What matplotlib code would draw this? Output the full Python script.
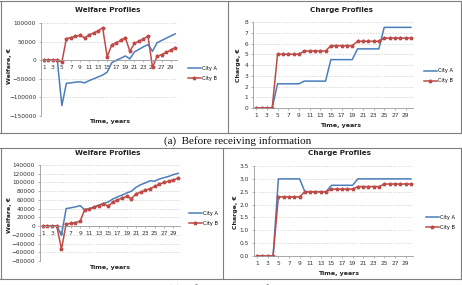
import numpy as np
import matplotlib
matplotlib.use("Agg")
import matplotlib.pyplot as plt
from matplotlib.lines import Line2D

# ------------- data -------------
years = list(range(1, 31))
xtick_labels = [str(v) for v in range(1, 30, 2)]

welfare_before_a = [0, 0, 0, 0, -122000, -62000, -61000, -59000, -58000, -61000,
                    -55000, -50000, -45000, -40000, -32000, -7000, 0, 5000, 11500, 3500,
                    22000, 29000, 36000, 42000, 24000, 47000, 53000, 59000, 65000, 71000]
welfare_before_b = [0, 0, 0, 0, -5000, 58000, 61000, 64000, 67000, 60000,
                    68000, 73000, 79000, 87000, 9000, 41000, 47000, 53000, 61000, 24000,
                    45000, 51000, 57000, 65000, -19000, 10000, 15000, 21000, 27000, 34000]

charge_before_a = [0, 0, 0, 0] + [2.25] * 5 + [2.5] * 5 + [4.5] * 5 + [5.5] * 5 + [7.5] * 6
charge_before_b = [0, 0, 0, 0] + [5.0] * 5 + [5.3] * 5 + [5.8] * 5 + [6.2] * 5 + [6.5] * 6

welfare_after_a = [0, 0, 0, 0, -21000, 40000, 42000, 44000, 47000, 37000,
                   40000, 44000, 48000, 52000, 55000, 62000, 67000, 71000, 76000, 80000,
                   89000, 95000, 99000, 104000, 103000, 108000, 111000, 114000, 118000, 121000]
welfare_after_b = [0, 0, 0, 0, -53000, 5000, 6000, 8000, 11000, 38000,
                   39000, 43000, 47000, 51000, 46000, 55000, 60000, 64000, 68000, 63000,
                   74000, 78000, 82000, 86000, 91000, 96000, 100000, 103000, 106000, 110000]

charge_after_a = [0, 0, 0, 0] + [3.0] * 5 + [2.5] * 5 + [2.75] * 5 + [3.0] * 11
charge_after_b = [0, 0, 0, 0] + [2.3] * 5 + [2.5] * 5 + [2.6] * 5 + [2.7] * 5 + [2.8] * 6

series_names = ["City A", "City B"]
blue = "#4A7EBB"
red = "#BE4B48"
W, H = 462, 285

fig = plt.figure(figsize=(W / 100, H / 100), dpi=100)
fig.patch.set_facecolor("white")

def px(x0, y0, x1, y1):
    # pixel box -> figure fraction rect
    return [x0 / W, 1 - y1 / H, (x1 - x0) / W, (y1 - y0) / H]

def panel(rect, ya, yb, ylim, yticks, title, ylabel, title_xy, ylabel_xy, xlabel_xy, leg_xy):
    ax = fig.add_axes(rect)
    ax.plot(years, ya, color=blue, lw=1.1, label=series_names[0])
    ax.plot(years, yb, color=red, lw=1.1, marker="*", ms=2.6, label=series_names[1])
    ax.set_xlim(0.4, 30.4)
    ax.set_ylim(*ylim)
    ax.set_yticks(yticks)
    ax.set_xticks(range(1, 30, 2))
    ax.set_xticklabels(xtick_labels)
    for s in ["top", "right"]:
        ax.spines[s].set_visible(False)
    ax.spines["left"].set_color("#9a9a9a")
    ax.spines["bottom"].set_color("#9a9a9a")
    ax.spines["left"].set_linewidth(0.6)
    ax.spines["bottom"].set_linewidth(0.6)
    ax.spines["bottom"].set_position(("data", 0))
    ax.tick_params(labelsize=4.2, colors="#9a9a9a", labelcolor="#333333",
                   length=1.5, width=0.5, pad=2)
    ax.yaxis.grid(True, color="#c8c8c8", lw=0.5, ls=(0, (2, 2)))
    ax.set_axisbelow(True)
    fig.text(title_xy[0] / W, 1 - title_xy[1] / H, title, ha="center", va="center",
             fontsize=5.2, fontweight="bold", color="#222222")
    fig.text(ylabel_xy[0] / W, 1 - ylabel_xy[1] / H, ylabel, ha="center", va="center",
             rotation=90, fontsize=4.5, fontweight="bold", color="#222222")
    fig.text(xlabel_xy[0] / W, 1 - xlabel_xy[1] / H, "Time, years", ha="center", va="center",
             fontsize=4.5, fontweight="bold", color="#222222")
    handles = [Line2D([], [], color=blue, lw=1.1),
               Line2D([], [], color=red, lw=1.1, marker="*", ms=2.6)]
    fig.legend(handles, series_names, loc="center left",
               bbox_to_anchor=(leg_xy[0] / W, 1 - leg_xy[1] / H),
               frameon=False, fontsize=3.6, handlelength=2.6, handletextpad=0.3,
               labelspacing=1.0, borderpad=0)
    return ax

panel(px(41, 23, 177, 116), welfare_before_a, welfare_before_b, (-150000, 100000),
      np.arange(-150000, 100001, 50000), "Welfare Profiles", "Welfare, \u20ac",
      (108, 10), (10, 66), (110, 121), (185, 73.5))
panel(px(253, 22, 413, 108), charge_before_a, charge_before_b, (0, 8),
      np.arange(0, 9, 1), "Charge Profiles", "Charge, \u20ac",
      (341, 10), (239, 65), (341, 126), (421, 76))
panel(px(40, 165, 180, 261), welfare_after_a, welfare_after_b, (-80000, 140000),
      np.arange(-80000, 140001, 20000), "Welfare Profiles", "Welfare, \u20ac",
      (108, 153), (9, 215), (110, 267), (186, 218.5))
panel(px(254, 166, 413, 256), charge_after_a, charge_after_b, (0, 3.5),
      np.arange(0, 3.51, 0.5), "Charge Profiles", "Charge, \u20ac",
      (339, 153), (235, 212), (339, 274), (423, 222.5))

# table frame around the charts
frame = dict(color="#7f7f7f", lw=0.8, transform=fig.transFigure)
def hline(y, x0=0, x1=W):
    fig.add_artist(Line2D([x0 / W, x1 / W], [1 - y / H, 1 - y / H], **frame))
def vline(x, y0, y1):
    fig.add_artist(Line2D([x / W, x / W], [1 - y0 / H, 1 - y1 / H], **frame))

hline(1); hline(133); hline(148); hline(279)
vline(0.5, 1, 133); vline(228, 1, 133); vline(461, 1, 133)
vline(0.5, 148, 279); vline(223, 148, 279); vline(461, 148, 279)

fig.text(238 / W, 1 - 141 / H, "(a)  Before receiving information", ha="center", va="center",
         fontsize=8, family="Liberation Serif", color="#111111")
fig.text(238 / W, 1 - 289 / H, "(b)  After receiving information", ha="center", va="center",
         fontsize=8, family="Liberation Serif", color="#111111")

fig.savefig("out.png", dpi=100)
